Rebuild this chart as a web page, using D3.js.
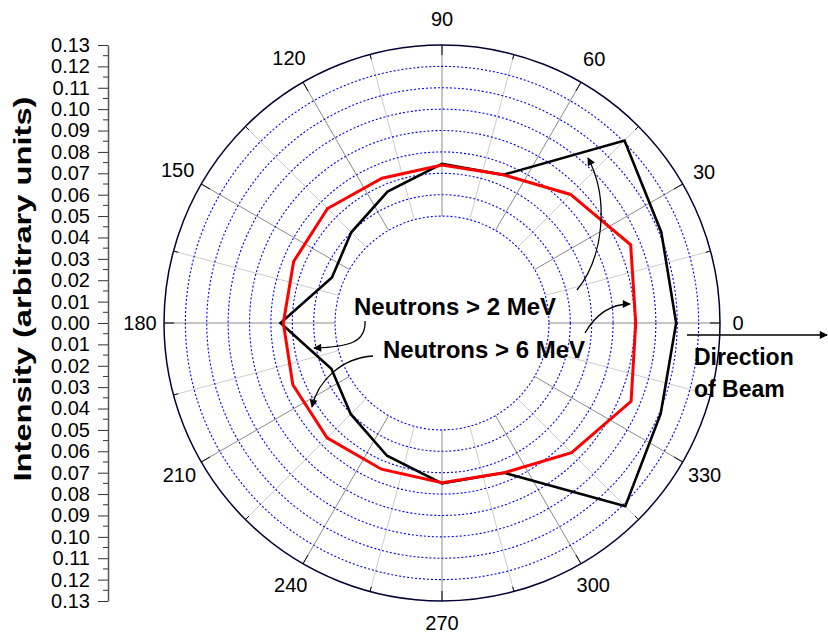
<!DOCTYPE html>
<html>
<head>
<meta charset="utf-8">
<script src="https://cdn.jsdelivr.net/npm/d3@7"></script>
<style>
  body { margin: 0; background: #fff; }
  svg { display: block; font-family: Arial, "Liberation Sans", sans-serif; }
</style>
</head>
<body>
<svg id="chart" width="828" height="633"></svg>
<script>
// angles in degrees, counter clockwise from the beam direction
const angles = [0, 22.5, 45, 67.5, 90, 112.5, 135, 157.5, 180, 202.5, 225, 247.5, 270, 292.5, 315, 337.5];
const above2MeV = [0.1095, 0.111, 0.1207, 0.075, 0.0744, 0.0665, 0.060, 0.0557, 0.0755, 0.056, 0.0603, 0.0672, 0.075, 0.0758, 0.1212, 0.1107];
const above6MeV = [0.0906, 0.0955, 0.085, 0.075, 0.0739, 0.0733, 0.0757, 0.0751, 0.0742, 0.0755, 0.076, 0.074, 0.0747, 0.0758, 0.0857, 0.0957];
const gridRings = [0.05, 0.06, 0.07, 0.08, 0.09, 0.10, 0.11, 0.12];
const spokeAngles = d3.range(0, 360, 15);
const angleLabels = d3.range(0, 360, 30);
const radialTicks = d3.range(0, 0.1301, 0.01);

const width = 828, height = 633;
const cx = 442, cy = 323;
const rMax = 0.13;

const svg = d3.select("#chart");

const r = d3.scaleLinear().domain([0, rMax]).range([0, 278]);
const rad = (d) => d * Math.PI / 180;
const px = (a, v) => cx + r(v) * Math.cos(rad(a));
const py = (a, v) => cy - r(v) * Math.sin(rad(a));

// grid
const grid = svg.append("g");

grid.selectAll("line.spoke")
  .data(spokeAngles)
  .join("line")
  .attr("class", "spoke")
  .attr("x1", (d) => px(d, 0.05)).attr("y1", (d) => py(d, 0.05))
  .attr("x2", (d) => px(d, rMax)).attr("y2", (d) => py(d, rMax))
  .attr("stroke", (d) => d % 30 === 0 ? "#8a8a8a" : "#cccccc")
  .attr("stroke-width", 1);

grid.selectAll("circle.ring")
  .data(gridRings)
  .join("circle")
  .attr("class", "ring")
  .attr("cx", cx).attr("cy", cy)
  .attr("r", (d) => r(d))
  .attr("fill", "none")
  .attr("stroke", "#0000ff")
  .attr("stroke-width", 1.1)
  .attr("stroke-dasharray", "2,2");

grid.selectAll("line.tick")
  .data(spokeAngles)
  .join("line")
  .attr("class", "tick")
  .attr("x1", (d) => px(d, rMax)).attr("y1", (d) => py(d, rMax))
  .attr("x2", (d) => cx + (r(rMax) - (d % 30 === 0 ? 10 : 5)) * Math.cos(rad(d)))
  .attr("y2", (d) => cy - (r(rMax) - (d % 30 === 0 ? 10 : 5)) * Math.sin(rad(d)))
  .attr("stroke", "#000")
  .attr("stroke-width", 1);

grid.append("circle")
  .attr("cx", cx).attr("cy", cy)
  .attr("r", r(rMax))
  .attr("fill", "none")
  .attr("stroke", "#000033")
  .attr("stroke-width", 1.5);

// angle labels
const labelR = (d) => {
  const s = Math.sin(rad(d));
  return r(rMax) + 18 + 3 * (String(d).length - 1) * Math.abs(Math.cos(rad(d))) + (s < 0 ? 4 : 8) * Math.abs(s);
};
svg.append("g")
  .selectAll("text")
  .data(angleLabels)
  .join("text")
  .attr("x", (d) => cx + labelR(d) * Math.cos(rad(d)))
  .attr("y", (d) => cy - labelR(d) * Math.sin(rad(d)))
  .attr("text-anchor", "middle")
  .attr("dominant-baseline", "central")
  .attr("font-size", 20)
  .text((d) => d);

// series
const line = d3.lineRadial()
  .angle((d) => rad(90 - d.a))
  .radius((d) => r(d.v))
  .curve(d3.curveLinearClosed);

const series = [
  { values: above2MeV, color: "#000000", w: 2.6 },
  { values: above6MeV, color: "#ff0000", w: 3 }
];

svg.append("g")
  .attr("transform", `translate(${cx},${cy})`)
  .selectAll("path")
  .data(series)
  .join("path")
  .attr("d", (s) => line(angles.map((a, i) => ({ a: a, v: s.values[i] }))))
  .attr("fill", "none")
  .attr("stroke", (s) => s.color)
  .attr("stroke-width", (s) => s.w)
  .attr("stroke-linejoin", "miter");

// left intensity axis, mirrored about the centre
const yTop = d3.scaleLinear().domain([0, rMax]).range([cy, cy - r(rMax)]);
const yBot = d3.scaleLinear().domain([0, rMax]).range([cy, cy + r(rMax)]);
const axisX = 108;

const axTop = svg.append("g")
  .attr("transform", `translate(${axisX},0)`)
  .call(d3.axisLeft(yTop).tickValues(radialTicks).tickFormat(d3.format(".2f")).tickSize(10).tickSizeOuter(0).tickPadding(8));
const axBot = svg.append("g")
  .attr("transform", `translate(${axisX},0)`)
  .call(d3.axisLeft(yBot).tickValues(radialTicks.slice(1)).tickFormat(d3.format(".2f")).tickSize(10).tickSizeOuter(0).tickPadding(8));

[axTop, axBot].forEach((g) => {
  g.selectAll("text").attr("font-size", 20).attr("font-family", "Arial, 'Liberation Sans', sans-serif").attr("fill", "#000");
  g.selectAll("line").attr("stroke", "#333");
  g.select(".domain").attr("stroke", "#555").attr("stroke-width", 1.5);
});

const minorTicks = d3.range(0.005, rMax, 0.01);
svg.append("g")
  .selectAll("line")
  .data(minorTicks.flatMap((d) => [yTop(d), yBot(d)]))
  .join("line")
  .attr("x1", axisX - 5).attr("x2", axisX)
  .attr("y1", (d) => d).attr("y2", (d) => d)
  .attr("stroke", "#333");

svg.append("text")
  .attr("transform", `translate(31,289) rotate(-90)`)
  .attr("text-anchor", "middle")
  .attr("font-size", 24)
  .attr("font-weight", "bold")
  .attr("textLength", 385)
  .attr("lengthAdjust", "spacingAndGlyphs")
  .text("Intensity (arbitrary units)");

// annotations
const defs = svg.append("defs");
defs.append("marker")
  .attr("id", "head")
  .attr("viewBox", "0 0 10 10")
  .attr("refX", 9).attr("refY", 5)
  .attr("markerWidth", 11).attr("markerHeight", 8)
  .attr("markerUnits", "userSpaceOnUse")
  .attr("orient", "auto")
  .append("path")
  .attr("d", "M0,0 L10,5 L0,10 z")
  .attr("fill", "#000");

const arrows = [
  "M365,321 C366,342 350,347 314,348",
  "M373,356 C342,358 318,380 312,407",
  "M577,290 C603,258 610,200 588,158",
  "M585,333 C596,314 610,304 630,304",
  "M687,335 L827,335"
];
svg.append("g")
  .selectAll("path")
  .data(arrows)
  .join("path")
  .attr("d", (d) => d)
  .attr("fill", "none")
  .attr("stroke", "#000")
  .attr("stroke-width", 1.3)
  .attr("marker-end", "url(#head)");

const notes = [
  { text: "Neutrons > 2 MeV", x: 354, y: 315 },
  { text: "Neutrons > 6 MeV", x: 383, y: 358 },
  { text: "Direction", x: 694, y: 365 },
  { text: "of Beam", x: 694, y: 397 }
];
svg.append("g")
  .selectAll("text")
  .data(notes)
  .join("text")
  .attr("x", (d) => d.x).attr("y", (d) => d.y)
  .attr("font-size", (d, i) => i < 2 ? 24 : 23)
  .attr("font-weight", "bold")
  .text((d) => d.text);
</script>
</body>
</html>
